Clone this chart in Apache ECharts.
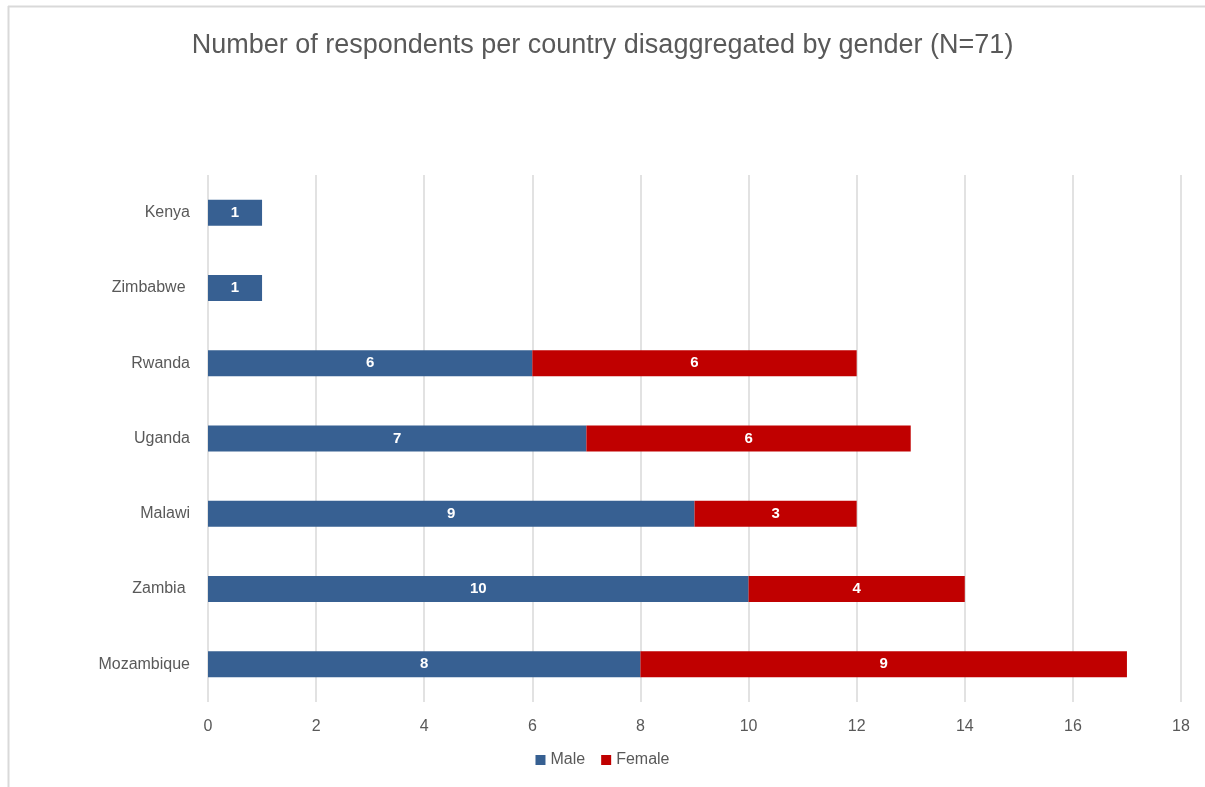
<!DOCTYPE html>
<html>
<head>
<meta charset="utf-8">
<script src="https://cdn.jsdelivr.net/npm/echarts@6/dist/echarts.min.js"></script>
<style>
html,body{margin:0;padding:0;background:#fff;}
#chart{width:1205px;height:787px;}
</style>
</head>
<body>
<div id="chart"></div>
<script>
const countries = ["Kenya", "Zimbabwe ", "Rwanda", "Uganda", "Malawi", "Zambia ", "Mozambique"];
const male = [1, 1, 6, 7, 9, 10, 8];
const female = [null, null, 6, 6, 3, 4, 9];
const xTicks = { min: 0, max: 18, interval: 2 };
const titleText = "Number of respondents per country disaggregated by gender (N=71)";

const chart = echarts.init(document.getElementById('chart'), null, { renderer: 'canvas' });
const FONT = "Liberation Sans";
const labelStyle = {
  show: true,
  position: 'inside',
  color: '#ffffff',
  fontWeight: 'bold',
  fontSize: 15,
  fontFamily: FONT
};
chart.setOption({
  animation: false,
  backgroundColor: '#ffffff',
  title: {
    text: titleText,
    left: 'center',
    top: 27,
    textStyle: { color: '#595959', fontSize: 27, fontWeight: 'normal', fontFamily: FONT }
  },
  legend: {
    bottom: 14,
    left: 'center',
    itemWidth: 10,
    itemHeight: 10,
    itemGap: 16,
    icon: 'rect',
    textStyle: { color: '#595959', fontSize: 16, fontFamily: FONT },
    data: ['Male', 'Female']
  },
  grid: { left: 208, right: 24, top: 175, bottom: 85, containLabel: false },
  xAxis: {
    type: 'value',
    min: xTicks.min, max: xTicks.max, interval: xTicks.interval,
    axisLine: { show: false },
    axisTick: { show: false },
    axisLabel: { color: '#595959', fontSize: 16, fontFamily: FONT, margin: 17 },
    splitLine: { show: true, lineStyle: { color: '#d9d9d9', width: 1.5 } }
  },
  yAxis: {
    type: 'category',
    inverse: true,
    data: countries,
    axisLine: { show: false },
    axisTick: { show: false },
    axisLabel: { color: '#595959', fontSize: 16, fontFamily: FONT, margin: 18 }
  },
  graphic: [
    { type: 'line', shape: { x1: 8.5, y1: 6, x2: 8.5, y2: 787 }, style: { stroke: '#d9d9d9', lineWidth: 2 } },
    { type: 'line', shape: { x1: 8, y1: 6.5, x2: 1205, y2: 6.5 }, style: { stroke: '#d9d9d9', lineWidth: 2 } }
  ],
  series: [
    {
      name: 'Male', type: 'bar', stack: 'total', data: male, barWidth: 26,
      itemStyle: { color: '#376092' }, label: labelStyle
    },
    {
      name: 'Female', type: 'bar', stack: 'total', data: female, barWidth: 26,
      itemStyle: { color: '#c00000' }, label: labelStyle
    }
  ]
});
</script>
</body>
</html>
